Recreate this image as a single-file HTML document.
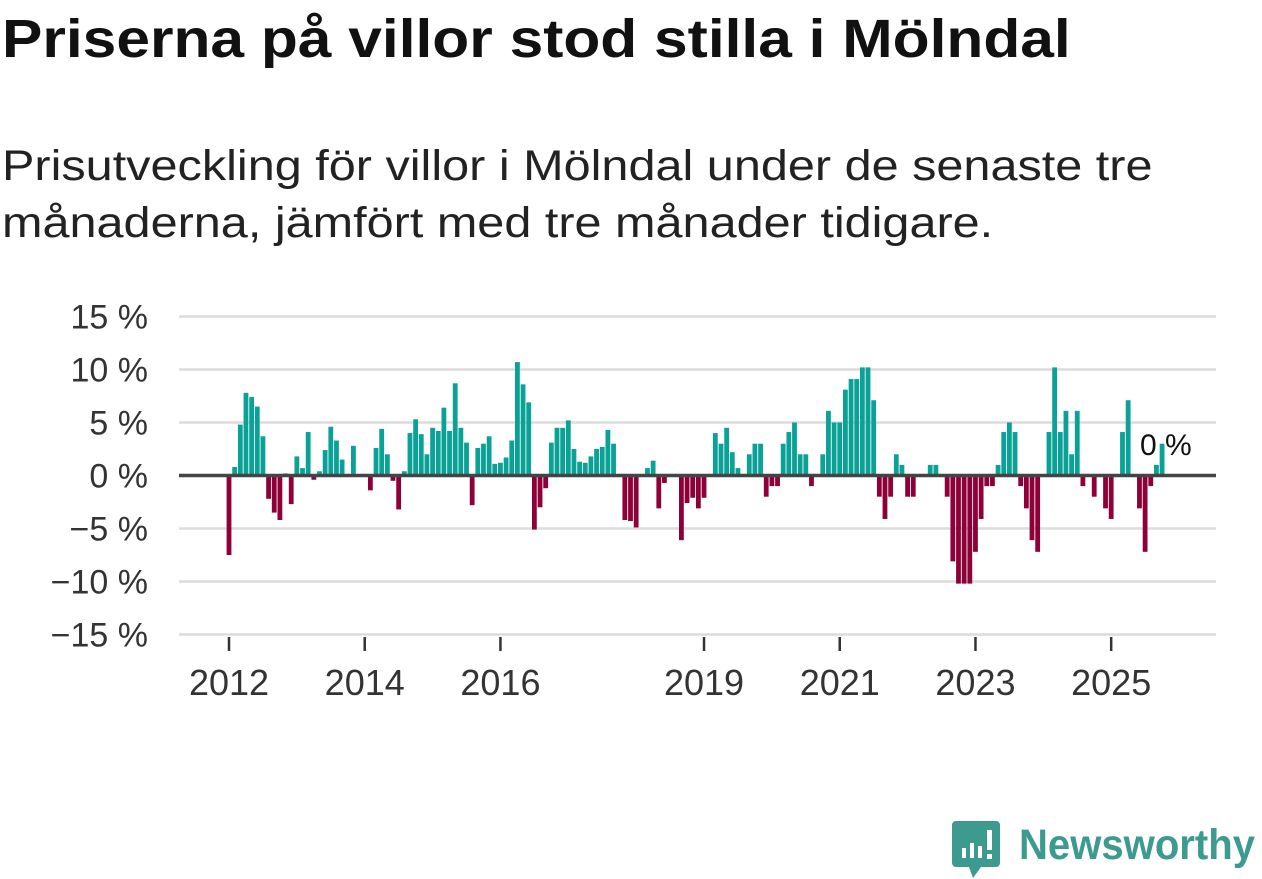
<!DOCTYPE html>
<html><head><meta charset="utf-8">
<style>
body{margin:0;background:#fff;width:1262px;height:879px;overflow:hidden;font-family:"Liberation Sans","DejaVu Sans",sans-serif;}
#title{position:absolute;left:2px;top:8px;font-size:54px;font-weight:bold;color:#111;margin:0;transform:scaleX(1.12);transform-origin:0 0;white-space:nowrap;}
#sub{position:absolute;left:2px;top:138px;font-size:43px;color:#222;line-height:57px;margin:0;transform:scaleX(1.13);transform-origin:0 0;white-space:nowrap;}
svg{position:absolute;left:0;top:0;}
</style></head><body>
<h1 id="title">Priserna på villor stod stilla i Mölndal</h1>
<p id="sub">Prisutveckling för villor i Mölndal under de senaste tre<br>månaderna, jämfört med tre månader tidigare.</p>
<svg id="chart" width="1262" height="879"></svg>
<script>
const values=[-7.5,0.8,4.8,7.8,7.4,6.5,3.7,-2.2,-3.5,-4.2,0.2,-2.7,1.8,0.7,4.1,-0.4,0.4,2.4,4.6,3.3,1.5,0,2.8,0,0,-1.4,2.6,4.4,2.0,-0.5,-3.2,0.4,4.0,5.3,3.9,2.0,4.5,4.2,6.4,4.2,8.7,4.5,3.1,-2.8,2.6,3.0,3.7,1.1,1.2,1.7,3.3,10.7,8.6,6.9,-5.1,-3.0,-1.2,3.1,4.5,4.5,5.2,2.5,1.3,1.2,1.8,2.5,2.7,4.3,3.0,-0.1,-4.2,-4.3,-4.9,0,0.7,1.4,-3.1,-0.7,0,0,-6.1,-2.6,-2.1,-3.1,-2.1,0,4.0,3.0,4.5,2.2,0.7,0,2.0,3.0,3.0,-2.0,-1.0,-1.0,3.0,4.1,5.0,2.0,2.0,-1.0,0,2.0,6.1,5.0,5.0,8.1,9.1,9.1,10.2,10.2,7.1,-2.0,-4.1,-2.0,2.0,1.0,-2.0,-2.0,0,0,1.0,1.0,0,-2.0,-8.1,-10.2,-10.2,-10.2,-7.2,-4.1,-1.0,-1.0,1.0,4.1,5.0,4.1,-1.0,-3.1,-6.1,-7.2,0,4.1,10.2,4.1,6.1,2.0,6.1,-1.0,0,-2.0,0,-3.1,-4.1,0,4.1,7.1,0,-3.1,-7.2,-1.0,1.0,3.0];
const yTicks=[15,10,5,0,-5,-10,-15];
const yTickLabels=["15 %","10 %","5 %","0 %","−5 %","−10 %","−15 %"];
const xTickYears=[2012,2014,2016,2019,2021,2023,2025];
const lastLabel="0 %";
const NS="http://www.w3.org/2000/svg";
const svg=document.getElementById('chart');
const y=v=>475.5-v*10.6;
const x=i=>229+i*5.655;
const xYear=yr=>x((yr-2012)*12);
function el(t,a,p){const e=document.createElementNS(NS,t);for(const k in a)e.setAttribute(k,a[k]);(p||svg).appendChild(e);return e;}
yTicks.forEach((t,k)=>{
  const g=el('line',{x1:179,x2:1216,y1:y(t),y2:y(t),stroke:'#dcdcdc','stroke-width':2.5});
  
  
  const tx=el('text',{x:148,y:y(t)+12,'text-anchor':'end','font-size':34,fill:'#333'});
  tx.textContent=yTickLabels[k];
  
  
});
values.forEach((v,i)=>{
  if(v===0)return;
  const r=el('rect',{x:x(i)-2.4,width:4.8,y:Math.min(y(v),y(0)),height:Math.abs(y(v)-y(0)),fill:v>0?'#0aa197':'#8e0038'});
  
  
});
const z=el('line',{x1:179,x2:1216,y1:y(0),y2:y(0),stroke:'#444','stroke-width':3.5});


xTickYears.forEach(yr=>{
  const tk=el('line',{x1:xYear(yr),x2:xYear(yr),y1:637,y2:651,stroke:'#333','stroke-width':2.5});
  
  
  const tx=el('text',{x:xYear(yr),y:695,'text-anchor':'middle','font-size':36,fill:'#333'});
  tx.textContent=yr;
  
  
});
const ll=el('text',{x:1140,y:455,'font-size':30,fill:'#111',stroke:'#fff','stroke-width':4,'paint-order':'stroke'});
ll.textContent=lastLabel;


</script>
<svg width="1262" height="879">
<path d="M956 821 h40 a4 4 0 0 1 4 4 v38 a4 4 0 0 1 -4 4 h-15 l-8 11 l-4 -11 h-13 a4 4 0 0 1 -4 -4 v-38 a4 4 0 0 1 4 -4z" fill="#3d9a8e"/>
<rect x="962" y="848" width="4" height="10" fill="#fff"/><rect x="970" y="843" width="4" height="15" fill="#fff"/><rect x="978" y="846" width="4" height="12" fill="#fff"/><rect x="987" y="830" width="5" height="20" fill="#fff"/><rect x="987" y="854" width="5" height="5" fill="#fff"/>
<text x="1019" y="859" font-size="43" font-weight="bold" fill="#3d9a8e" textLength="236" lengthAdjust="spacingAndGlyphs" font-family="Liberation Sans, sans-serif">Newsworthy</text>
</svg>
</body></html>
